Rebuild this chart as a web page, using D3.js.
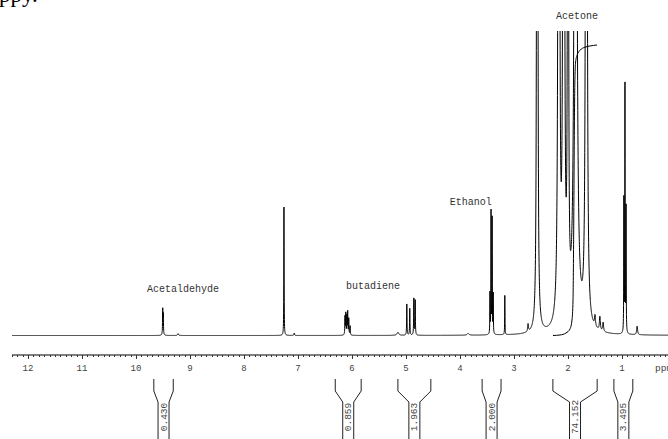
<!DOCTYPE html>
<html>
<head>
<meta charset="utf-8">
<script src="https://cdn.jsdelivr.net/npm/d3@7"></script>
<style>
  html, body { margin: 0; padding: 0; background: #fff; }
  svg { display: block; }
</style>
</head>
<body>
<script>
// 1H NMR spectrum: resonance lines (chemical shift in ppm, peak height, half-width in ppm)
const peakPpm    = [9.505, 9.495, 9.22, 7.26, 7.07,
                    6.13, 6.115, 6.095, 6.08, 6.06, 6.035, 5.15,
                    4.985, 4.93, 4.855, 4.83,
                    3.85, 3.445, 3.425, 3.405, 3.385, 3.17,
                    2.74, 2.57, 2.17, 2.08, 2.00, 1.86, 1.66,
                    1.50, 1.41, 1.35, 0.965, 0.945, 0.925, 0.72];
const peakHeight = [8.2, 6.5, 0.6, 44.5, 0.8,
                    6.0, 7.0, 6.2, 7.5, 5.5, 3.0, 1.0,
                    10.3, 8.8, 12.0, 11.8,
                    0.6, 13.3, 40.5, 40.0, 13.0, 13.0,
                    2.5, 3000, 3000, 3000, 2000, 600, 2000,
                    3.5, 4.5, 3.0, 44.0, 85.5, 41.0, 2.8];
const peakWidth  = [0.004, 0.004, 0.01, 0.003, 0.006,
                    0.004, 0.004, 0.004, 0.004, 0.004, 0.004, 0.02,
                    0.004, 0.004, 0.004, 0.004,
                    0.02, 0.003, 0.003, 0.003, 0.003, 0.003,
                    0.008, 0.003, 0.004, 0.004, 0.003, 0.015, 0.005,
                    0.01, 0.01, 0.01, 0.003, 0.003, 0.003, 0.01];

// compound annotations (label, shift, height level of the label baseline)
const compoundNames = ["Acetaldehyde", "butadiene", "Ethanol", "Acetone"];
const compoundPpm   = [9.13, 5.61, 3.80, 1.833];
const compoundLevel = [14.3, 15.3, 42.9, 104.0];

// integration regions (ppm limits) and integral values
const integralHi    = [9.67, 6.31, 5.15, 3.59, 2.28, 1.15];
const integralLo    = [9.31, 5.83, 4.54, 3.24, 1.46, 0.80];
const integralValue = ["0.430", "0.859", "1.963", "2.000", "74.152", "3.495"];

// running integral trace over the acetone region
const integralCurvePpm   = [2.278, 2.148, 2.037, 1.963, 1.926, 1.907, 1.896, 1.885, 1.874, 1.859, 1.833, 1.778, 1.685, 1.593, 1.463];
const integralCurveValue = [0, 0.13, 0.64, 1.66, 3.96, 9.06, 24.4, 47.3, 63.9, 69.8, 71.5, 72.8, 73.6, 73.9, 74.152];

// axis ticks
const majorTicks = [12, 11, 10, 9, 8, 7, 6, 5, 4, 3, 2, 1];
const axisUnit = "ppm";

// heading line running above the plot
const headingText = "ppy.";

const W = 668, H = 439;
const svg = d3.select("body").append("svg").attr("width", W).attr("height", H);

const x = d3.scaleLinear().domain([12, 1]).range([28, 622]);
const y = d3.scaleLinear().domain([0, 100]).range([335.5, 31]);
const yInt = d3.scaleLinear().domain([0, 74.152]).range([335.5, 45]);

const ppmMax = x.invert(12), ppmMin = x.invert(W);

svg.append("text")
  .attr("x", -1).attr("y", 2)
  .style("font-family", "'Liberation Serif', 'DejaVu Serif', serif")
  .style("font-size", "23px")
  .attr("fill", "#000")
  .text(headingText);

// spectrum as a sum of Lorentzian lines
const step = 0.0015;
const spectrum = [];
for (let p = ppmMax; p >= ppmMin - step; p -= step) {
  let v = 0;
  for (let i = 0; i < peakPpm.length; i++) {
    const d = (p - peakPpm[i]) / peakWidth[i];
    v += peakHeight[i] / (1 + d * d);
  }
  spectrum.push([p, v]);
}

svg.append("clipPath").attr("id", "plotClip")
  .append("rect").attr("x", 0).attr("y", 31).attr("width", W).attr("height", 320);

const g = svg.append("g").attr("clip-path", "url(#plotClip)");

g.append("path")
  .datum(spectrum)
  .attr("fill", "none")
  .attr("stroke", "#000")
  .attr("stroke-width", 1)
  .attr("d", d3.line().x(d => x(d[0])).y(d => Math.max(y(d[1]), 20)));

// integral trace
g.append("path")
  .datum(integralCurvePpm.map((p, i) => [p, integralCurveValue[i]]))
  .attr("fill", "none")
  .attr("stroke", "#000")
  .attr("stroke-width", 1)
  .attr("d", d3.line().x(d => x(d[0])).y(d => yInt(d[1])).curve(d3.curveMonotoneX));

// compound labels
const labelFont = "'Liberation Mono', 'Courier New', 'DejaVu Sans Mono', monospace";
svg.append("g").selectAll("text")
  .data(compoundNames)
  .join("text")
  .attr("x", (d, i) => x(compoundPpm[i]))
  .attr("y", (d, i) => y(compoundLevel[i]))
  .attr("text-anchor", "middle")
  .style("font-family", labelFont)
  .style("font-size", "10px")
  .attr("fill", "#333")
  .text(d => d);

// ppm axis
const axisY = 355;
const axis = svg.append("g");
axis.append("line")
  .attr("x1", 12).attr("x2", W).attr("y1", axisY).attr("y2", axisY)
  .attr("stroke", "#000").attr("stroke-width", 1);

const minorTicks = d3.range(Math.round(ppmMin * 10) + 1, Math.round(ppmMax * 10) + 1)
  .map(v => v / 10)
  .filter(v => Math.abs(v - Math.round(v)) > 1e-6);
axis.selectAll("line.minor")
  .data(minorTicks)
  .join("line").attr("class", "minor")
  .attr("x1", d => Math.round(x(d)) + 0.5).attr("x2", d => Math.round(x(d)) + 0.5)
  .attr("y1", axisY).attr("y2", axisY + 2)
  .attr("stroke", "#333").attr("stroke-width", 1);

axis.selectAll("line.major")
  .data(majorTicks)
  .join("line").attr("class", "major")
  .attr("x1", d => Math.round(x(d)) + 0.5).attr("x2", d => Math.round(x(d)) + 0.5)
  .attr("y1", axisY).attr("y2", axisY + 4)
  .attr("stroke", "#333").attr("stroke-width", 1);

axis.selectAll("text.tick")
  .data(majorTicks)
  .join("text").attr("class", "tick")
  .attr("x", d => x(d)).attr("y", 371)
  .attr("text-anchor", "middle")
  .style("font-family", labelFont)
  .style("font-size", "9px")
  .attr("fill", "#444")
  .text(d => d);

axis.append("text")
  .attr("x", 655).attr("y", 371)
  .style("font-family", labelFont)
  .style("font-size", "9.5px")
  .attr("fill", "#444")
  .text(axisUnit);

// integral brackets with their values
const brackets = svg.append("g");
integralValue.forEach((val, i) => {
  const xl = x(integralHi[i]), xr = x(integralLo[i]);
  const xm = (xl + xr) / 2;
  const il = xm - 5.5, ir = xm + 5.5;
  const p = d3.path();
  p.moveTo(xl, 379); p.lineTo(xl, 391); p.lineTo(il, 402); p.lineTo(il, H + 2);
  p.moveTo(xr, 379); p.lineTo(xr, 391); p.lineTo(ir, 402); p.lineTo(ir, H + 2);
  brackets.append("path")
    .attr("d", p.toString())
    .attr("fill", "none")
    .attr("stroke", "#222")
    .attr("stroke-width", 1);
  brackets.append("text")
    .attr("transform", `translate(${xm + 3},${417}) rotate(-90)`)
    .attr("text-anchor", "middle")
    .style("font-family", labelFont)
    .style("font-size", "9.5px")
    .attr("fill", "#444")
    .text(val);
});
</script>
</body>
</html>
